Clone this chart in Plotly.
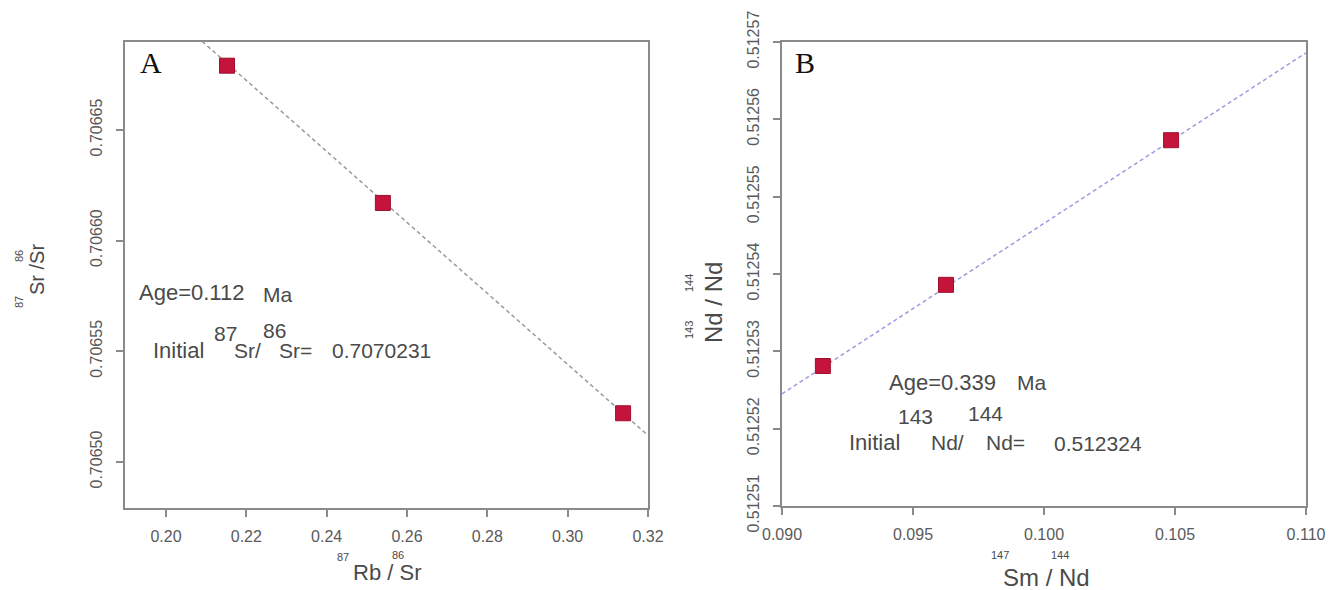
import plotly.graph_objects as go

W, H = 1338, 590

# ---- Data: panel A (Rb-Sr isochron) ----
rb_sr = [0.2152, 0.2540, 0.3138]
sr_sr = [0.706679, 0.706617, 0.706522]
lineA_x = [0.2090, 0.3200]
lineA_y = [0.706690, 0.706512]
xticksA = [0.20, 0.22, 0.24, 0.26, 0.28, 0.30, 0.32]
yticksA = [0.70650, 0.70655, 0.70660, 0.70665]

# ---- Data: panel B (Sm-Nd isochron) ----
sm_nd = [0.09156, 0.09626, 0.10485]
nd_nd = [0.5125281, 0.5125386, 0.5125573]
lineB_x = [0.0900, 0.1100]
lineB_y = [0.5125245, 0.5125686]
xticksB = [0.090, 0.095, 0.100, 0.105, 0.110]
yticksB = [0.51251, 0.51252, 0.51253, 0.51254, 0.51255, 0.51256, 0.51257]

MARK = "#C4143C"
AXC = "#8a8a8a"
TXT = "#4a4a4a"
TICKC = "#5a5a5a"
FONT = "Liberation Sans, Arial, sans-serif"


def px(x):
    return x / W


def py(y):
    return 1 - y / H


fig = go.Figure()

fig.add_trace(go.Scatter(x=lineA_x, y=lineA_y, mode="lines",
                         line=dict(color="#9a9a9a", width=1.5, dash="4px,3px"),
                         xaxis="x", yaxis="y", showlegend=False))
fig.add_trace(go.Scatter(x=rb_sr, y=sr_sr, mode="markers",
                         marker=dict(symbol="square", size=15, color=MARK,
                                     line=dict(color="#9e0f2e", width=1)),
                         xaxis="x", yaxis="y", showlegend=False))
fig.add_trace(go.Scatter(x=lineB_x, y=lineB_y, mode="lines",
                         line=dict(color="#9c9ce0", width=1.5, dash="4px,3px"),
                         xaxis="x2", yaxis="y2", showlegend=False))
fig.add_trace(go.Scatter(x=sm_nd, y=nd_nd, mode="markers",
                         marker=dict(symbol="square", size=15, color=MARK,
                                     line=dict(color="#9e0f2e", width=1)),
                         xaxis="x2", yaxis="y2", showlegend=False))

axis_common = dict(showline=True, linecolor=AXC, linewidth=2, mirror=True,
                   ticks="outside", ticklen=7, tickcolor=AXC, tickwidth=1.5,
                   showgrid=False, zeroline=False, automargin=False,
                   tickfont=dict(family=FONT, size=16, color=TICKC))

fig.update_layout(
    width=W, height=H,
    margin=dict(l=0, r=0, t=0, b=0, autoexpand=False),
    paper_bgcolor="white", plot_bgcolor="white",
    showlegend=False,
    xaxis=dict(domain=[px(125), px(648)], range=[0.1898, 0.32],
               tickvals=xticksA, tickformat=".2f", anchor="y",
               ticklabelstandoff=6, **axis_common),
    yaxis=dict(domain=[py(508), py(42)], range=[0.7064792, 0.7066897],
               tickvals=yticksA, tickformat=".5f", anchor="x",
               tickangle=-90, ticklabelstandoff=8, **axis_common),
    xaxis2=dict(domain=[px(782), px(1306)], range=[0.090, 0.110],
                tickvals=xticksB, tickformat=".3f", anchor="y2",
                ticklabelstandoff=6, **axis_common),
    yaxis2=dict(domain=[py(506), py(42)], range=[0.51251, 0.51257],
                tickvals=yticksB, tickformat=".5f", anchor="x2",
                tickangle=-90, ticklabelstandoff=8, **axis_common),
)


def ann(text, x, y, size=21, xanchor="left", color=TXT, angle=0,
        family=FONT, yanchor="middle"):
    fig.add_annotation(text=text, x=px(x), y=py(y), xref="paper", yref="paper",
                       showarrow=False, xanchor=xanchor, yanchor=yanchor,
                       textangle=angle, font=dict(family=family, size=size,
                                                  color=color))


# Panel letters
ann("A", 138, 62, size=30, family="Liberation Serif, Times New Roman, serif",
    color="#111111")
ann("B", 793, 63, size=30, family="Liberation Serif, Times New Roman, serif",
    color="#111111")

# Panel A inner text
ann("Age=0.112", 137, 292, size=22)
ann("Ma", 261, 294, size=21)
ann("Initial", 151, 350, size=22)
ann("87", 212, 333, size=21)
ann("Sr/", 232, 350, size=21)
ann("86", 261, 330, size=21)
ann("Sr=", 277, 350, size=21)
ann("0.7070231", 330, 350, size=21)

# Panel B inner text
ann("Age=0.339", 887, 382, size=22)
ann("Ma", 1015, 382, size=21)
ann("143", 896, 416, size=21)
ann("144", 966, 413, size=21)
ann("Initial", 847, 442, size=22)
ann("Nd/", 929, 442, size=21)
ann("Nd=", 984, 442, size=21)
ann("0.512324", 1052, 443, size=21)

# Axis titles panel A
ann("Rb / Sr", 387, 572, size=22, xanchor="center")
ann("87", 343, 557, size=11, xanchor="center")
ann("86", 398, 555, size=11, xanchor="center")
ann("Sr /Sr", 37, 270, size=20, xanchor="center", angle=-90)
ann("87", 19, 302, size=11, xanchor="center", angle=-90)
ann("86", 19, 256, size=11, xanchor="center", angle=-90)

# Axis titles panel B
ann("Sm / Nd", 1046, 577, size=24, xanchor="center")
ann("147", 1000, 555, size=11, xanchor="center")
ann("144", 1060, 555, size=11, xanchor="center")
ann("Nd / Nd", 713, 302, size=24, xanchor="center", angle=-90)
ann("143", 689, 330, size=11, xanchor="center", angle=-90)
ann("144", 689, 283, size=11, xanchor="center", angle=-90)

fig.write_html("out.html")
